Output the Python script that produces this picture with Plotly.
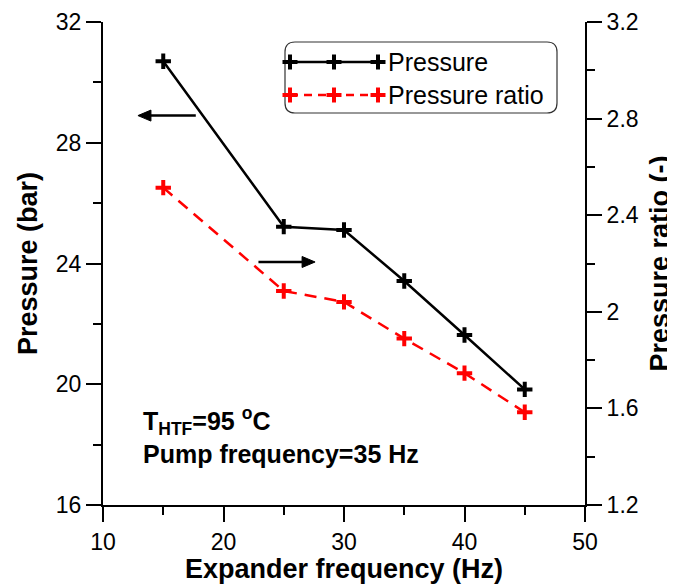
import plotly.graph_objects as go

# ---- data ----
expander_freq = [15, 25, 30, 35, 40, 45]                 # Hz
pressure_bar = [30.70, 25.22, 25.11, 23.42, 21.63, 19.83]  # left axis
pressure_ratio = [2.514, 2.086, 2.041, 1.889, 1.746, 1.584]  # right axis
series_names = ["Pressure", "Pressure ratio"]
x_tick_vals = [10, 20, 30, 40, 50]
y_tick_vals = [16, 20, 24, 28, 32]
y2_tick_vals = [1.2, 1.6, 2.0, 2.4, 2.8, 3.2]
y2_tick_text = ["1.2", "1.6", "2", "2.4", "2.8", "3.2"]

FONT = "Liberation Sans, Arial, Helvetica, sans-serif"
OFF = 8                      # page body margin of the html page
W, H = 675 - OFF, 584 - OFF
ML, MR, MT, MB = 95, 90, 14, 79
PW, PH = W - ML - MR, H - MT - MB


def pp(x, y):
    """window pixel -> paper coordinates (for decorations only)"""
    return (x - OFF - ML) / PW, (H - MB - (y - OFF)) / PH


fig = go.Figure()

fig.add_trace(go.Scatter(
    x=expander_freq, y=pressure_bar, name=series_names[0], yaxis="y",
    mode="lines+markers", showlegend=False,
    line=dict(color="black", width=2.5),
    marker=dict(symbol="cross-thin", size=11, color="black",
                line=dict(color="black", width=4)),
))
fig.add_trace(go.Scatter(
    x=expander_freq, y=pressure_ratio, name=series_names[1], yaxis="y2",
    mode="lines+markers", showlegend=False,
    line=dict(color="#ff0000", width=2.5, dash="12px,8px"),
    marker=dict(symbol="cross-thin", size=11, color="#ff0000",
                line=dict(color="#ff0000", width=4)),
))

shapes = []
annotations = []

# ---- custom legend (rounded box, line + three markers per row) ----
bx0, by0, bx1, by1, rad = 285, 42, 557, 113, 10
(ax0, ay0), (ax1, ay1) = pp(bx0, by0), pp(bx1, by1)
rx, ry = rad / PW, rad / PH
path = (f"M{ax0+rx},{ay0} L{ax1-rx},{ay0} Q{ax1},{ay0} {ax1},{ay0-ry} "
        f"L{ax1},{ay1+ry} Q{ax1},{ay1} {ax1-rx},{ay1} "
        f"L{ax0+rx},{ay1} Q{ax0},{ay1} {ax0},{ay1+ry} "
        f"L{ax0},{ay0-ry} Q{ax0},{ay0} {ax0+rx},{ay0} Z")
shapes.append(dict(type="path", xref="paper", yref="paper", path=path,
                   line=dict(color="#333333", width=1.2), fillcolor="white", layer="below"))

rows = [(62, "black", "solid", series_names[0]), (95, "#ff0000", "8px,6px", series_names[1])]
for ry_px, col, dash, name in rows:
    lx0, ly = pp(290, ry_px)
    lx1, _ = pp(378, ry_px)
    shapes.append(dict(type="line", xref="paper", yref="paper", x0=lx0, x1=lx1, y0=ly, y1=ly,
                       line=dict(color=col, width=2.5, dash=dash)))
    for cx in (290, 334, 378):
        hx0, hy = pp(cx - 7.5, ry_px)
        hx1, _ = pp(cx + 7.5, ry_px)
        vx, vy0 = pp(cx, ry_px - 7.5)
        _, vy1 = pp(cx, ry_px + 7.5)
        shapes.append(dict(type="line", xref="paper", yref="paper", x0=hx0, x1=hx1, y0=hy, y1=hy,
                           line=dict(color=col, width=4)))
        shapes.append(dict(type="line", xref="paper", yref="paper", x0=vx, x1=vx, y0=vy0, y1=vy1,
                           line=dict(color=col, width=4)))
    tx, ty = pp(386, ry_px)
    annotations.append(dict(xref="paper", yref="paper", x=tx, y=ty, xanchor="left", yanchor="middle",
                            text=name, showarrow=False, font=dict(family=FONT, size=25, color="black")))


# ---- arrows pointing to the axes (drawn as shapes in data space) ----
def arrow(tail_x, tip_x, y):
    xpu = PW / 40.0     # px per Hz
    ypu = PH / 16.0     # px per bar
    d = 1 if tip_x > tail_x else -1
    head_len, head_half = 13 / xpu, 5.5 / ypu
    base_x = tip_x - d * head_len
    shapes.append(dict(type="line", xref="x", yref="y", x0=tail_x, x1=base_x + d * 0.2, y0=y, y1=y,
                       line=dict(color="black", width=2.5)))
    shapes.append(dict(type="path", xref="x", yref="y",
                       path=f"M{tip_x},{y} L{base_x},{y + head_half} L{base_x},{y - head_half} Z",
                       fillcolor="black", line=dict(color="black", width=1)))


arrow(17.7, 12.9, 28.9)
arrow(22.9, 27.6, 24.05)

# ---- condition texts ----
t1x, t1y = pp(141, 421)
t2x, t2y = pp(141, 454)
annotations.append(dict(xref="paper", yref="paper", x=t1x, y=t1y, xanchor="left", yanchor="middle",
                        text="<b>T<sub>HTF</sub>=95 <sup>o</sup>C</b>", showarrow=False,
                        font=dict(family=FONT, size=25, color="black")))
annotations.append(dict(xref="paper", yref="paper", x=t2x, y=t2y, xanchor="left", yanchor="middle",
                        text="<b>Pump frequency=35 Hz</b>", showarrow=False,
                        font=dict(family=FONT, size=25, color="black")))

tickfont = dict(family=FONT, size=23, color="black")
titlefont = dict(family=FONT, size=27, color="black")
common = dict(showline=True, linecolor="black", linewidth=2, showgrid=False, zeroline=False,
              ticks="outside", ticklen=15, tickwidth=2, tickcolor="black", tickfont=tickfont)

fig.update_layout(
    width=W, height=H,
    margin=dict(l=ML, r=MR, t=MT, b=MB, autoexpand=False),
    paper_bgcolor="white", plot_bgcolor="white",
    showlegend=False,
    shapes=shapes, annotations=annotations,
    xaxis=dict(range=[10, 50], tickvals=x_tick_vals,
               minor=dict(dtick=5, tick0=0, ticks="outside", ticklen=8, tickwidth=2, tickcolor="black"),
               title=dict(text="<b>Expander frequency (Hz)</b>", font=titlefont, standoff=14),
               **common),
    yaxis=dict(range=[16, 32], tickvals=y_tick_vals,
               minor=dict(dtick=2, tick0=0, ticks="outside", ticklen=8, tickwidth=2, tickcolor="black"),
               title=dict(text="<b>Pressure (bar)</b>", font=titlefont, standoff=10),
               **common),
    yaxis2=dict(range=[1.2, 3.2], tickvals=y2_tick_vals, ticktext=y2_tick_text,
                overlaying="y", side="right",
                minor=dict(dtick=0.2, tick0=0, ticks="outside", ticklen=8, tickwidth=2, tickcolor="black"),
                title=dict(text="<b>Pressure ratio (-)</b>", font=titlefont, standoff=13),
                **common),
)

fig.write_html("out.html")
